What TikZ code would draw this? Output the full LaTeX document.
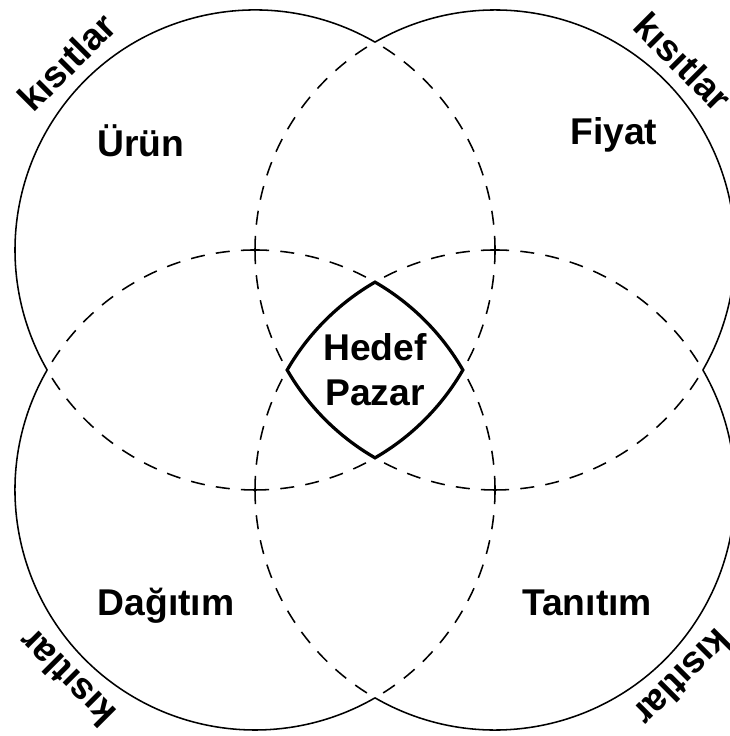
\documentclass[tikz,border=0pt]{standalone}
\usepackage{fontspec}
\setmainfont{Liberation Sans}

\begin{document}
\begin{tikzpicture}[x=3cm,y=3cm,
    thinline/.style={line width=1.1pt},
    dashline/.style={line width=1.1pt,dash pattern=on 10pt off 8pt},
    thickline/.style={line width=2.3pt,line join=miter},
    lbl/.style={font=\fontsize{26.5}{32}\selectfont\bfseries}]
    \coordinate (sw) at (-3.125,-3.05);
    \coordinate (ne) at (2.958,3.083);
    \useasboundingbox (sw) rectangle (ne);
    \clip (sw) rectangle (ne);
    \foreach \a in {45,135,225,315}{
        \coordinate (c\a) at (\a:{sqrt(2)});
        \draw[thinline] (c\a) ++({\a-75}:2) arc[start angle=\a-75,end angle=\a+75,radius=2];
        \draw[dashline] (c\a) ++({\a+135}:2) arc[start angle=\a+135,end angle=\a+75,radius=2];
        \draw[dashline] (c\a) ++({\a+135}:2) arc[start angle=\a+135,end angle=\a+165,radius=2];
        \draw[dashline] (c\a) ++({\a+225}:2) arc[start angle=\a+225,end angle=\a+195,radius=2];
        \draw[dashline] (c\a) ++({\a+225}:2) arc[start angle=\a+225,end angle=\a+285,radius=2];
        \node[lbl,rotate=\a-90] (kisit\a) at (\a:3.63) {kısıtlar};
    }
    \draw[thickline] (c135) ++(300:2) arc[start angle=300,end angle=330,radius=2]
        arc[start angle=30,end angle=60,radius=2]
        arc[start angle=120,end angle=150,radius=2]
        arc[start angle=210,end angle=240,radius=2] -- cycle;
    \node[lbl,anchor=base] (urun) at (-1.95,1.775) {Ürün};
    \node[lbl,anchor=base] (fiyat) at (1.99,1.875) {Fiyat};
    \node[lbl,anchor=base] (dagitim) at (-1.742,-2.042) {Dağıtım};
    \node[lbl,anchor=base] (tanitim) at (1.767,-2.042) {Tanıtım};
    \node[lbl,align=center] (hedef) at (0,0) {Hedef\\Pazar};
\end{tikzpicture}
\end{document}
